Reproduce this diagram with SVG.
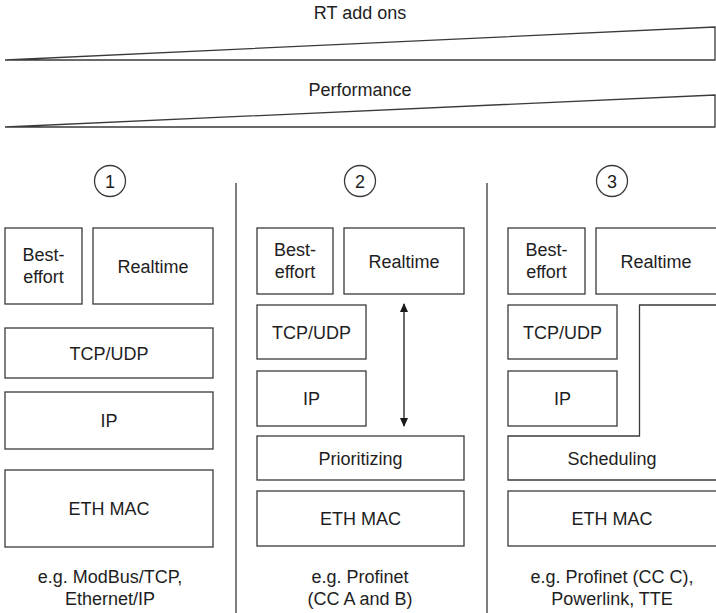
<svg xmlns="http://www.w3.org/2000/svg" width="716" height="613" viewBox="0 0 716 613">
  <defs>
    <style>
      .box { fill: #ffffff; stroke: #3a3a3a; stroke-width: 1.3; }
      .wedge { fill: #ffffff; stroke: #3a3a3a; stroke-width: 1.3; stroke-linejoin: miter; }
      .divider { stroke: #3a3a3a; stroke-width: 1.3; fill: none; }
      .conn { stroke: #1a1a1a; stroke-width: 1.3; fill: none; }
      text { font-family: "Liberation Sans", Arial, sans-serif; font-size: 18px; fill: #1e1e1e; text-anchor: middle; }
    </style>
    <marker id="arrowhead" viewBox="0 0 10 10" refX="9" refY="5" markerWidth="9" markerHeight="9" markerUnits="userSpaceOnUse" orient="auto-start-reverse">
      <path d="M0,0.5 L10,5 L0,9.5 Z" fill="#1a1a1a"/>
    </marker>
  </defs>

  <!-- Trend wedges -->
  <g id="rt-addons">
    <text x="360" y="19">RT add ons</text>
    <polygon class="wedge" points="5,60 715,27 715,60"/>
  </g>
  <g id="performance">
    <text x="360" y="96">Performance</text>
    <polygon class="wedge" points="5,127 715,95 715,127"/>
  </g>

  <!-- Column dividers -->
  <g id="dividers">
    <line class="divider" x1="236" y1="183" x2="236" y2="613"/>
    <line class="divider" x1="487" y1="183" x2="487" y2="613"/>
  </g>

  <!-- Column 1 -->
  <g id="col1-label">
    <circle class="box" cx="110" cy="181" r="15.5"/>
    <text x="110" y="187.5">1</text>
  </g>
  <g id="col1-besteffort">
    <rect class="box" x="5" y="228" width="77" height="76"/>
    <text x="43.5" y="261">Best-</text>
    <text x="43.5" y="283">effort</text>
  </g>
  <g id="col1-realtime">
    <rect class="box" x="93" y="228" width="120" height="76"/>
    <text x="153" y="272.5">Realtime</text>
  </g>
  <g id="col1-tcpudp">
    <rect class="box" x="5" y="328" width="208" height="50"/>
    <text x="109" y="359.5">TCP/UDP</text>
  </g>
  <g id="col1-ip">
    <rect class="box" x="5" y="392" width="208" height="57"/>
    <text x="109" y="427">IP</text>
  </g>
  <g id="col1-ethmac">
    <rect class="box" x="5" y="470" width="208" height="77"/>
    <text x="109" y="515">ETH MAC</text>
  </g>
  <g id="col1-examples">
    <text x="110" y="583">e.g. ModBus/TCP,</text>
    <text x="110" y="605">Ethernet/IP</text>
  </g>

  <!-- Column 2 -->
  <g id="col2-label">
    <circle class="box" cx="360" cy="181" r="15.5"/>
    <text x="360" y="187.5">2</text>
  </g>
  <g id="col2-besteffort">
    <rect class="box" x="257" y="228" width="76" height="66"/>
    <text x="295" y="256">Best-</text>
    <text x="295" y="278">effort</text>
  </g>
  <g id="col2-realtime">
    <rect class="box" x="344" y="228" width="120" height="66"/>
    <text x="404" y="267.5">Realtime</text>
  </g>
  <g id="col2-tcpudp">
    <rect class="box" x="257" y="305" width="109" height="54"/>
    <text x="311.5" y="338.5">TCP/UDP</text>
  </g>
  <g id="col2-ip">
    <rect class="box" x="257" y="371" width="109" height="55"/>
    <text x="311.5" y="405">IP</text>
  </g>
  <g id="col2-prioritizing">
    <rect class="box" x="257" y="436" width="207" height="44"/>
    <text x="360.5" y="464.5">Prioritizing</text>
  </g>
  <g id="col2-ethmac">
    <rect class="box" x="257" y="491" width="207" height="55"/>
    <text x="360.5" y="525">ETH MAC</text>
  </g>
  <g id="col2-examples">
    <text x="360" y="583">e.g. Profinet</text>
    <text x="360" y="605">(CC A and B)</text>
  </g>

  <!-- Column 3 -->
  <g id="col3-label">
    <circle class="box" cx="612" cy="181" r="15.5"/>
    <text x="612" y="187.5">3</text>
  </g>
  <g id="col3-besteffort">
    <rect class="box" x="508" y="228" width="77" height="66"/>
    <text x="546.5" y="256">Best-</text>
    <text x="546.5" y="278">effort</text>
  </g>
  <g id="col3-realtime">
    <rect class="box" x="596" y="228" width="122" height="66"/>
    <text x="656" y="267.5">Realtime</text>
  </g>
  <g id="col3-tcpudp">
    <rect class="box" x="508" y="305" width="109" height="54"/>
    <text x="562.5" y="338.5">TCP/UDP</text>
  </g>
  <g id="col3-ip">
    <rect class="box" x="508" y="371" width="109" height="55"/>
    <text x="562.5" y="405">IP</text>
  </g>
  <g id="col3-scheduling">
    <path class="box" d="M718,305 H639.5 V436 H508 V480 H718 Z"/>
    <text x="612" y="464.5">Scheduling</text>
  </g>
  <g id="col3-ethmac">
    <rect class="box" x="508" y="491" width="210" height="55"/>
    <text x="612" y="525">ETH MAC</text>
  </g>
  <g id="col3-examples">
    <text x="612" y="583">e.g. Profinet (CC C),</text>
    <text x="612" y="605">Powerlink, TTE</text>
  </g>

  <!-- Connectors -->
  <g id="connectors">
    <line class="conn" x1="404" y1="304" x2="404" y2="426" marker-start="url(#arrowhead)" marker-end="url(#arrowhead)"/>
  </g>
</svg>
